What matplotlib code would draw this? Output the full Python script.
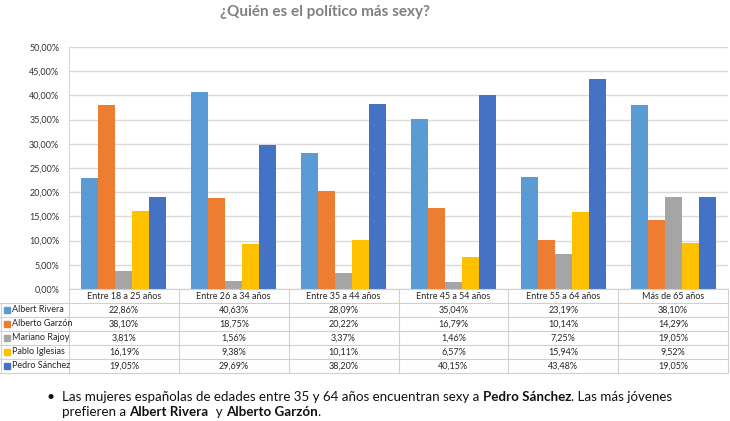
import numpy as np
import matplotlib
matplotlib.use("Agg")
import matplotlib.pyplot as plt
from matplotlib.lines import Line2D
from matplotlib.patches import Rectangle

plt.rcParams['font.family'] = ['Lato', 'DejaVu Sans']

grupos = ["Entre 18 a 25 años", "Entre 26 a 34 años", "Entre 35 a 44 años",
          "Entre 45 a 54 años", "Entre 55 a 64 años", "Más de 65 años"]
politicos = ["Albert Rivera", "Alberto Garzón", "Mariano Rajoy",
             "Pablo Iglesias", "Pedro Sánchez"]
rivera = [22.86, 40.63, 28.09, 35.04, 23.19, 38.10]
garzon = [38.10, 18.75, 20.22, 16.79, 10.14, 14.29]
rajoy = [3.81, 1.56, 3.37, 1.46, 7.25, 19.05]
iglesias = [16.19, 9.38, 10.11, 6.57, 15.94, 9.52]
sanchez = [19.05, 29.69, 38.20, 40.15, 43.48, 19.05]
yticks = np.arange(0, 51, 5)

series = [rivera, garzon, rajoy, iglesias, sanchez]
colores = ["#5B9BD5", "#ED7D31", "#A5A5A5", "#FFC000", "#4472C4"]

W, H = 730, 421
fig = plt.figure(figsize=(W / 100, H / 100), dpi=100)

def fx(px):
    return px / W

def fy(py):
    return 1 - py / H

x0, x1 = 69, 728
ytop, ybot = 47, 289
ax = fig.add_axes([fx(x0), fy(ybot), fx(x1) - fx(x0), fy(ytop) - fy(ybot)])

n = len(grupos)
x = np.arange(n)
bw = 0.155
for i, (vals, c) in enumerate(zip(series, colores)):
    ax.bar(x + (i - 2) * bw, vals, width=bw, color=c, zorder=3)

ax.set_xlim(-0.5, n - 0.5)
ax.set_ylim(0, 50)
ax.set_yticks(yticks)
ax.yaxis.set_major_formatter(matplotlib.ticker.FuncFormatter(
    lambda v, p: ("%.2f%%" % v).replace(".", ",")))
ax.tick_params(axis="y", length=0, labelsize=6.5, colors="#333333", pad=7)
ax.set_xticks([])
ax.grid(axis="y", color="#D9D9D9", linewidth=1, zorder=0)
for s in ["top", "right", "bottom"]:
    ax.spines[s].set_visible(False)
ax.spines["left"].set_color("#D9D9D9")

fig.text(fx(325), fy(12), "¿Quién es el político más sexy?", ha="center", va="center",
         fontsize=11, fontweight="bold", color="#808080")

# table under the chart
lc = "#D0D0D0"
col_w = (x1 - x0) / n
row_h = 14
tab_bot = 373

def hline(py, xa, xb):
    fig.add_artist(Line2D([fx(xa), fx(xb)], [fy(py), fy(py)], color=lc, lw=0.8))

def vline(px, ya, yb):
    fig.add_artist(Line2D([fx(px), fx(px)], [fy(ya), fy(yb)], color=lc, lw=0.8))

hline(289, x0, x1)
for r in range(6):
    hline(303 + r * row_h, 0, x1)
vline(0.5, 303, tab_bot)
for j in range(n + 1):
    vline(x0 + j * col_w, 289, tab_bot)

fs = 6.5
for j, g in enumerate(grupos):
    fig.text(fx(x0 + (j + 0.5) * col_w), fy(296.5), g, ha="center", va="center",
             fontsize=fs, color="#262626")

for i, (nombre, vals, c) in enumerate(zip(politicos, series, colores)):
    yc = 303 + i * row_h + row_h / 2
    fig.add_artist(Rectangle((fx(4), fy(yc + 3)), fx(6), fy(yc - 3) - fy(yc + 3),
                             color=c, transform=fig.transFigure))
    fig.text(fx(12), fy(yc), nombre, ha="left", va="center", fontsize=fs, color="#262626")
    for j, v in enumerate(vals):
        fig.text(fx(x0 + (j + 0.5) * col_w), fy(yc), ("%.2f%%" % v).replace(".", ","),
                 ha="center", va="center", fontsize=fs, color="#262626")

# bullet note with bold names
fig.text(fx(47), fy(397), "•", ha="left", va="center", fontsize=10, color="#111111")
renderer = fig.canvas.get_renderer()

def mixed(px, py, parts, size=9.6):
    cur = px
    for txt, bold in parts:
        t = fig.text(fx(cur), fy(py), txt, ha="left", va="center", fontsize=size,
                     fontweight="bold" if bold else "normal", color="#111111")
        bb = t.get_window_extent(renderer=renderer)
        cur += bb.width

mixed(62, 397, [("Las mujeres españolas de edades entre 35 y 64 años encuentran sexy a ", False),
                ("Pedro Sánchez", True), (". Las más jóvenes", False)])
mixed(62, 412, [("prefieren a ", False), ("Albert Rivera", True), ("  y ", False),
                ("Alberto Garzón", True), (".", False)])

fig.savefig("out.png", dpi=100)
